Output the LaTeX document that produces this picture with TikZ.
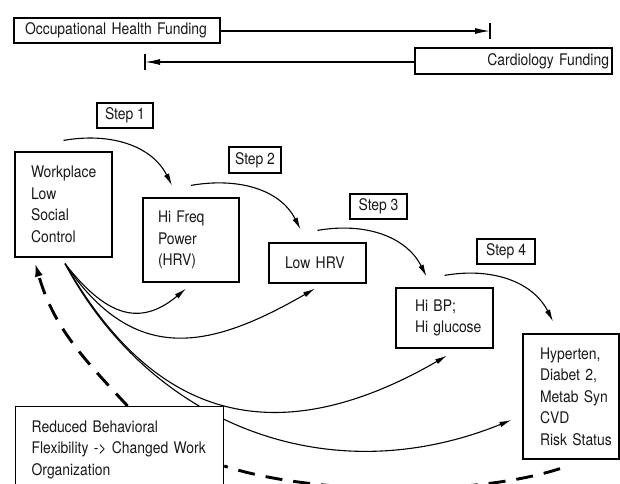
\documentclass[tikz,border=0pt]{standalone}
\usepackage{fontspec}
\setmainfont{TeX Gyre Heros}[FakeStretch=0.87]
\usetikzlibrary{arrows.meta,backgrounds}
\hfuzz=200pt
\hbadness=10000
\begin{document}
\begin{tikzpicture}[x=1pt,y=-1pt,
  box/.style={draw, line width=1.2pt, fill=white, text=black!90, align=left,
    inner ysep=0pt, font=\fontsize{16}{21.5}\selectfont},
  stepbox/.style={box, align=center, inner xsep=0pt, minimum height=25pt},
  link/.style={line width=1.1pt, -{Latex[length=12pt,width=5.5pt]}},
  fundarrow/.style={line width=1.2pt, -{Latex[length=15pt,width=6pt]}},
  dashlink/.style={line width=2.9pt, dash pattern=on 17pt off 11pt},
]
\useasboundingbox (0,0) rectangle (620,483);
\clip (0,0) rectangle (620,483);

% funding
\node[box, minimum width=206pt, minimum height=25pt, text width=184pt, inner xsep=11pt] (occ) at (117,30.5) {Occupational Health Funding};
\node[box, align=right, minimum width=197pt, minimum height=26pt, text width=191pt, inner xsep=3pt] (card) at (513.5,61) {Cardiology Funding};
\coordinate (ohend) at (490,31);
\coordinate (cfend) at (145,62);
\draw[fundarrow] (occ.east |- ohend) -- (ohend);
\draw[line width=1.2pt] ([yshift=8pt]ohend) -- ([yshift=-8pt]ohend);
\draw[fundarrow] (card.west |- cfend) -- (cfend);
\draw[line width=1.2pt] ([yshift=8pt]cfend) -- ([yshift=-8pt]cfend);

% steps
\node[stepbox, minimum width=56pt] (s1) at (125,115.5) {Step 1};
\node[stepbox, minimum width=52pt, minimum height=26pt] (s2) at (255,160) {Step 2};
\node[stepbox, minimum width=57pt] (s3) at (378.5,206.5) {Step 3};
\node[stepbox, minimum width=58pt] (s4) at (506,251.5) {Step 4};

% main boxes
\node[box, minimum width=97pt, minimum height=105pt, text width=65pt, inner xsep=16pt] (work) at (63.5,204.5) {\mbox{Workplace}\\Low\\Social\\Control};
\node[box, minimum width=96pt, minimum height=84pt, text width=66pt, inner xsep=15pt] (hf) at (191,240) {Hi Freq\\Power\\(HRV)};
\node[box, minimum width=97pt, minimum height=40pt, text width=65pt, inner xsep=16pt] (lh) at (317.5,263) {Low HRV};
\node[box, minimum width=97pt, minimum height=60pt, text width=59pt, inner xsep=19pt] (bp) at (444.5,318) {Hi BP;\\\mbox{Hi glucose}};
\node[box, minimum width=96pt, minimum height=125pt, text width=62pt, inner xsep=17pt] (hyp) at (571,396.5) {Hyperten,\\Diabet 2,\\\mbox{Metab Syn}\\CVD\\\mbox{Risk Status}};
\node[box, anchor=north west, minimum width=208pt, text width=176pt, inner xsep=16pt, inner ysep=14pt] (redu) at (15,406) {Reduced Behavioral\\Flexibility -> Changed Work\\Organization};

\begin{pgfonlayer}{background}
% step arrows
\draw[link] ([yshift=11pt]work.north) to[out=10,in=117] ([xshift=-19pt,yshift=12pt]hf.north);
\draw[link] ([yshift=12pt]hf.north) to[out=10,in=117] ([xshift=-17pt,yshift=13pt]lh.north);
\draw[link] ([yshift=12pt]lh.north) to[out=10,in=117] ([xshift=-18pt,yshift=11pt]bp.north);
\draw[link] ([yshift=12pt]bp.north) to[out=10,in=117] ([xshift=-18pt,yshift=12pt]hyp.north);
% fan from workplace
\draw[link] ([xshift=1.5pt,yshift=-6pt]work.south) to[out=-52,in=220,looseness=1.3] ([xshift=-5pt,yshift=-6pt]hf.south);
\draw[link] ([xshift=1.5pt,yshift=-6pt]work.south) to[out=-56,in=210,looseness=1.25] ([xshift=-2.5pt,yshift=-5pt]lh.south);
\draw[link] ([xshift=1.5pt,yshift=-6pt]work.south) to[out=-60,in=210,out distance=120pt,in distance=250pt] ([xshift=2.5pt,yshift=-7pt]bp.south);
\draw[link] ([xshift=1.5pt,yshift=-6pt]work.south) to[out=-62,in=202,out distance=180pt,in distance=200pt] ([xshift=-11pt,yshift=-23.5pt]hyp.west);
% dashed feedback
\draw[dashlink, -{Latex[length=14pt,width=8pt]}] ([xshift=8pt]redu.north) to[out=133,in=-74] ([xshift=-28.5pt,yshift=-5pt]work.south);
\draw[dashlink] ([xshift=-11pt,yshift=-9pt]hyp.south) to[out=198,in=-18,looseness=0.7] ([yshift=-60pt]redu.north east);
\end{pgfonlayer}
\end{tikzpicture}
\end{document}
